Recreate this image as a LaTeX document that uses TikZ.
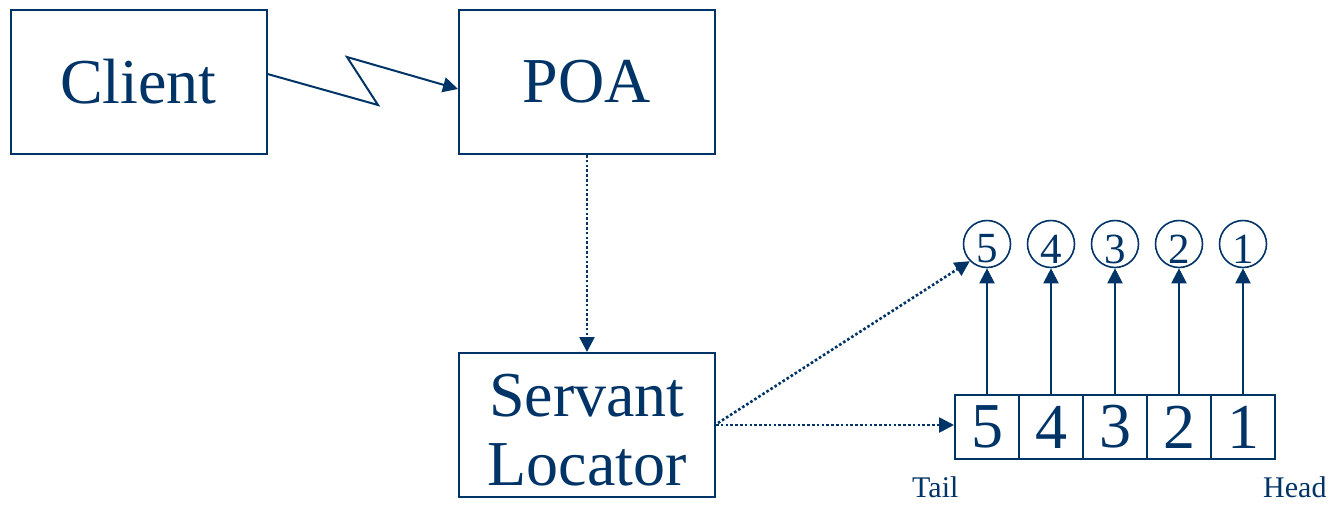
\documentclass[tikz,border=0pt]{standalone}
\usepackage{fontspec}
\setmainfont{Liberation Serif}
\usetikzlibrary{arrows.meta,calc}
\definecolor{navy}{RGB}{0,51,102}
\begin{document}
\begin{tikzpicture}[x=1pt,y=-1pt,
  every node/.style={text=navy},
  bigbox/.style={draw=navy,line width=2pt,minimum width=256pt,minimum height=144pt,
    inner sep=0pt,font=\fontsize{64}{69}\selectfont,align=center},
  boxtext/.style={inner sep=0pt,font=\fontsize{64}{69}\selectfont,align=center},
  cell/.style={draw=navy,line width=2pt,minimum width=64pt,minimum height=64pt,
    inner sep=0pt,font=\fontsize{64}{69}\selectfont},
  ring/.style={draw=navy,line width=1.6pt,circle,minimum size=47pt,inner sep=0pt},
  ringnum/.style={font=\fontsize{43}{46}\selectfont,inner sep=0pt},
  endlabel/.style={font=\fontsize{30}{32}\selectfont,inner sep=0pt,anchor=base west},
  tip/.style={-{Triangle[length=15pt,width=15pt]}},
  solidarrow/.style={tip,draw=navy,line width=2pt},
  dotarrow/.style={tip,draw=navy,line width=2.6pt,dash pattern=on 2.6pt off 2.2pt},
  zigzag/.style={tip,draw=navy,line width=2pt,line join=miter}
]
\useasboundingbox (0,0) rectangle (1334,504);

% main components
\node[bigbox] (client) at (138.5,82) {Client};
\node[bigbox] (poa) at (587,82) {POA};
\node[bigbox] (locator) at (587,425) {};
\node[boxtext] (locatortext) at ($(locator.center)+(0,5)$) {Servant\\Locator};

% queue of servants, tail on the left, head on the right
\foreach \n/\x in {5/987,4/1051,3/1115,2/1179,1/1243}{
  \node[cell] (c\n) at (\x,427) {\n};
  \node[ring] (r\n) at (\x,244) {};
  \node[ringnum] (d\n) at ($(r\n.center)+(0,5)$) {\n};
  \draw[solidarrow] (c\n.north) -- (r\n.south);
}
\node[endlabel] (tail) at (912,497) {Tail};
\node[endlabel] (head) at (1263,497) {Head};

% request from client to POA
\coordinate (z1) at (378,105);
\coordinate (z2) at (347,57);
\draw[zigzag] ($(client.east)+(0,-8)$) -- (z1) -- (z2) -- ($(poa.west)+(0,7)$);

% dispatch paths
\draw[dotarrow] (poa.south) -- (locator.north);
\draw[dotarrow] (locator.east) -- (c5.west |- locator.east);
\draw[dotarrow] ($(locator.east)+(2,-2)$) -- (r5.south west);
\end{tikzpicture}
\end{document}
